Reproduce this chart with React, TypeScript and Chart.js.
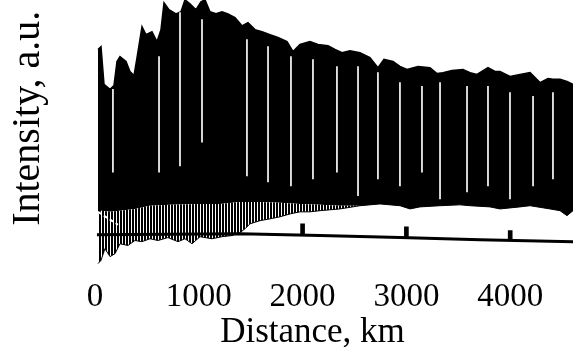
import React, { useEffect, useRef } from "react";
import { Chart, registerables } from "chart.js";

Chart.register(...registerables);

// Distance (km) / intensity (a.u.) pairs
const upperEnvelope: [number, number][] = [
  [29, 73.5], [58, 74.5], [87, 61.6], [145, 59.9], [183, 61.2], [212, 69.4], [241, 71.1],
  [299, 69.4], [337, 66.0], [376, 64.6], [405, 70.7], [453, 81.3], [491, 78.6], [549, 79.6],
  [597, 76.2], [636, 80.3], [665, 89.5], [713, 87.1], [780, 85.7], [829, 86.4], [867, 90.5],
  [915, 89.1], [973, 87.1], [1021, 89.8], [1060, 90.5], [1108, 86.4], [1166, 85.7], [1224, 86.4],
  [1281, 85.7], [1349, 84.4], [1416, 81.6], [1474, 82.7], [1541, 80.3], [1609, 79.6], [1686, 78.6],
  [1763, 77.6], [1850, 76.2], [1908, 72.8], [1975, 75.2], [2071, 76.2], [2148, 75.2], [2245, 74.8],
  [2312, 73.5], [2380, 72.4], [2457, 73.1], [2553, 72.4], [2649, 70.7], [2726, 67.3], [2784, 70.1],
  [2871, 69.4], [2938, 67.7], [3006, 66.7], [3112, 67.7], [3227, 67.3], [3295, 65.3], [3353, 65.6],
  [3439, 66.3], [3545, 66.7], [3613, 65.6], [3680, 65.0], [3786, 67.3], [3854, 66.0], [3902, 66.0],
  [3998, 64.3], [4094, 65.0], [4191, 65.6], [4287, 62.2], [4364, 63.6], [4412, 63.3], [4480, 63.3],
  [4547, 62.6], [4605, 61.6],
];

const denseLower: [number, number][] = [
  [29, 17.3], [58, 18.4], [145, 18.0], [241, 18.4], [385, 19.0], [530, 20.1], [723, 20.4],
  [1012, 20.7], [1204, 20.7], [1397, 21.4], [1590, 21.4], [1782, 21.1], [1975, 20.7], [2168, 20.4],
  [2360, 20.1], [2553, 20.1], [2746, 20.7], [2938, 20.1], [3035, 19.0], [3131, 19.7], [3324, 20.1],
  [3516, 20.4], [3613, 20.1], [3805, 19.7], [3902, 19.0], [4094, 19.7], [4191, 20.1], [4383, 19.0],
  [4480, 18.4], [4547, 16.7], [4605, 18.4],
];

const lowerEnvelope: [number, number][] = [
  [29, 0.3], [58, 1.4], [96, 5.4], [145, 2.7], [193, 3.7], [241, 7.1], [318, 6.5], [385, 8.2],
  [453, 7.8], [530, 8.8], [607, 8.2], [703, 9.2], [800, 7.8], [867, 8.8], [935, 7.1], [1012, 9.5],
  [1127, 8.8], [1224, 9.5], [1320, 9.9], [1397, 10.9], [1445, 12.2], [1493, 13.9], [1590, 15.0],
  [1686, 15.6], [1782, 16.3], [1879, 17.3], [1975, 18.0], [2071, 18.0], [2168, 18.4], [2360, 19.0],
  [2553, 20.1], [2746, 20.7], [2938, 20.1], [3035, 19.0], [3131, 19.7], [3324, 20.1], [3516, 20.4],
  [3613, 20.1], [3805, 19.7], [3902, 19.0], [4094, 19.7], [4191, 20.1], [4383, 19.0], [4480, 18.4],
  [4547, 16.7], [4605, 18.4],
];

const baseline: [number, number][] = [
  [19, 10.2], [1397, 10.5], [2168, 9.9], [2938, 9.2], [3709, 8.5], [4605, 7.8],
];

// Distance markers on the baseline: [km, low, high]
const markers: [number, number, number][] = [
  [2000, 9.9, 13.9], [3000, 9.0, 12.9], [4000, 8.3, 11.6],
];

// Light vertical gaps in the dense trace: [km, low, high]
const gaps: [number, number, number][] = [
  [173, 31.6, 59.9], [617, 31.6, 71.1], [819, 33.7, 86.1], [1031, 41.8, 83.7], [1464, 30.3, 76.9],
  [1667, 28.2, 74.5], [1888, 26.9, 71.1], [2100, 29.3, 70.1], [2331, 31.6, 67.7], [2534, 23.5, 67.7],
  [2726, 29.3, 65.6], [2938, 26.9, 62.2], [3150, 31.6, 60.9], [3324, 22.4, 62.2], [3584, 24.8, 60.9],
  [3786, 26.9, 60.9], [3998, 22.4, 58.8], [4220, 26.9, 57.5], [4412, 29.3, 58.8],
];

const startDash: [number, number][] = [[29, 18.0], [222, 13.6]];

const xTicks = [0, 1000, 2000, 3000, 4000];
const xTitle = "Distance, km";
const yTitle = "Intensity, a.u.";

const SERIF = '"Liberation Serif", "Times New Roman", serif';

const pts = (a: [number, number][]) => a.map(([x, y]) => ({ x, y }));
const bars = (a: [number, number, number][]) => a.map(([x, lo, hi]) => ({ x, y: [lo, hi] }));

export default function App() {
  const ref = useRef<HTMLCanvasElement | null>(null);

  useEffect(() => {
    if (!ref.current) return;
    const pc = document.createElement("canvas");
    pc.width = 3;
    pc.height = 1;
    const pctx = pc.getContext("2d")!;
    pctx.fillStyle = "#fff";
    pctx.fillRect(0, 0, 3, 1);
    pctx.fillStyle = "#000";
    pctx.fillRect(0, 0, 2, 1);
    const ctx = ref.current.getContext("2d")!;
    const pattern = ctx.createPattern(pc, "repeat") || "#444";

    const chart = new Chart(ref.current, {
      type: "line",
      data: {
        datasets: [
          {
            type: "line",
            data: pts(upperEnvelope),
            borderColor: "#000",
            borderWidth: 1.5,
            backgroundColor: "#000",
            fill: "+1",
            pointRadius: 0,
            order: 10,
          },
          {
            type: "line",
            data: pts(denseLower),
            borderColor: "#000",
            borderWidth: 0,
            backgroundColor: pattern as any,
            fill: "+1",
            pointRadius: 0,
            order: 9,
          },
          {
            type: "line",
            data: pts(lowerEnvelope),
            borderColor: "#000",
            borderWidth: 1,
            fill: false,
            pointRadius: 0,
            order: 8,
          },
          {
            type: "bar",
            data: bars(gaps) as any,
            backgroundColor: "#fff",
            barThickness: 1,
            grouped: false,
            order: 5,
          },
          {
            type: "line",
            data: pts(baseline),
            borderColor: "#000",
            borderWidth: 3,
            fill: false,
            pointRadius: 0,
            order: 3,
          },
          {
            type: "bar",
            data: bars(markers) as any,
            backgroundColor: "#000",
            barThickness: 4,
            grouped: false,
            order: 2,
          },
          {
            type: "line",
            data: pts(startDash),
            borderColor: "#fff",
            borderWidth: 2,
            borderDash: [4, 3],
            fill: false,
            pointRadius: 0,
            order: 1,
          },
        ] as any,
      },
      options: {
        animation: false,
        responsive: true,
        maintainAspectRatio: false,
        devicePixelRatio: 1,
        layout: { padding: 0 },
        plugins: { legend: { display: false }, tooltip: { enabled: false } },
        scales: {
          x: {
            type: "linear",
            min: -414,
            max: 4605,
            offset: false,
            grid: { display: false, drawTicks: false },
            border: { display: false },
            afterBuildTicks: (scale: any) => {
              scale.ticks = xTicks.map((v) => ({ value: v }));
            },
            ticks: {
              color: "#000",
              padding: 16,
              font: { family: SERIF, size: 33, lineHeight: 1 },
              callback: (v: any) => String(v),
            },
            title: {
              display: true,
              text: xTitle,
              color: "#000",
              font: { family: SERIF, size: 35, lineHeight: 1 },
              padding: { top: -14, bottom: 7.5 },
            },
          },
          y: {
            type: "linear",
            min: 0,
            max: 100,
            grid: { display: false, drawTicks: false },
            border: { display: false },
            ticks: { display: false },
            title: {
              display: true,
              text: yTitle,
              color: "#000",
              font: { family: SERIF, size: 40, lineHeight: 1 },
              padding: { top: 8, bottom: 4 },
            },
          },
        },
      } as any,
    });
    return () => chart.destroy();
  }, []);

  return (
    <div style={{ position: "absolute", left: 0, top: -28, width: 573, height: 386, background: "#fff" }}>
      <canvas ref={ref} />
    </div>
  );
}
